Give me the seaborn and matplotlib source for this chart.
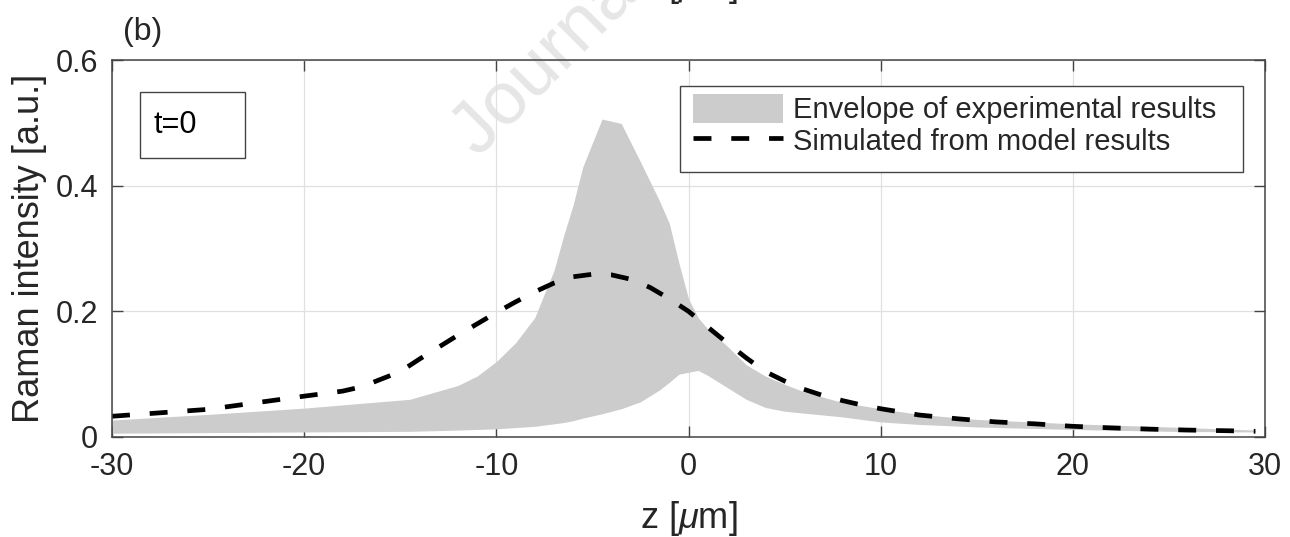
import numpy as np
import pandas as pd
import matplotlib
matplotlib.use("Agg")
import matplotlib.pyplot as plt
from matplotlib.patches import Patch, Rectangle
from matplotlib.lines import Line2D
import seaborn as sns

# Envelope of the measured Raman profiles (min / max over experiments)
env_z = [-30, -25, -20, -14.5, -12, -11, -10, -9, -8, -7.5, -7, -6.5, -6, -5.5,
         -4.5, -3.5, -2.5, -1.5, -1, -0.5, 0, 0.5, 1, 2, 3, 4, 5, 6, 8, 10,
         12, 15, 20, 25, 29.5]
env_upper = [0.027, 0.036, 0.046, 0.060, 0.082, 0.097, 0.120, 0.150, 0.190, 0.228,
             0.265, 0.320, 0.370, 0.430, 0.506, 0.499, 0.438, 0.375, 0.340, 0.277,
             0.220, 0.190, 0.172, 0.145, 0.115, 0.097, 0.084, 0.072, 0.055, 0.045,
             0.036, 0.028, 0.021, 0.016, 0.011]
env_lower = [0.006, 0.007, 0.008, 0.009, 0.011, 0.012, 0.013, 0.015, 0.017, 0.019,
             0.021, 0.023, 0.026, 0.030, 0.037, 0.045, 0.056, 0.075, 0.087, 0.100,
             0.103, 0.106, 0.098, 0.079, 0.060, 0.047, 0.041, 0.038, 0.032, 0.024,
             0.020, 0.016, 0.012, 0.009, 0.008]

# Simulated profile from the model
model_z = [-30, -25, -20, -18, -17, -15, -14, -13, -12, -11, -10, -9, -8, -7, -6,
           -5, -4, -3, -2, -1, 0, 1, 2, 3, 4, 5, 6, 7, 8, 9, 10, 12, 14, 16, 18,
           20, 22, 24, 26, 28, 29.5]
model_I = [0.033, 0.044, 0.065, 0.073, 0.080, 0.104, 0.124, 0.143, 0.162, 0.180,
           0.198, 0.215, 0.231, 0.245, 0.255, 0.259, 0.258, 0.251, 0.238, 0.220,
           0.200, 0.175, 0.150, 0.126, 0.104, 0.089, 0.076, 0.066, 0.058, 0.051,
           0.045, 0.035, 0.029, 0.024, 0.021, 0.017, 0.0145, 0.0125, 0.011, 0.010,
           0.009]

x_ticks = [-30, -20, -10, 0, 10, 20, 30]
y_ticks = [0, 0.2, 0.4, 0.6]
y_ticklabels = ["0", "0.2", "0.4", "0.6"]
legend_labels = ["Envelope of experimental results", "Simulated from model results"]

sns.set_theme(style="white")
plt.rcParams["font.family"] = ["Liberation Sans", "DejaVu Sans"]
plt.rcParams["axes.unicode_minus"] = False
plt.rcParams["mathtext.fontset"] = "custom"
plt.rcParams["mathtext.rm"] = "Liberation Sans"
plt.rcParams["mathtext.it"] = "Liberation Sans:italic"

dark = "#262626"
edge = "#444444"
fill_c = "#cccccc"
W, H = 1290, 537
AX_L, AX_R, AX_T, AX_B = 112, 1265, 60, 437


def ax_x(px):
    return (px - AX_L) / (AX_R - AX_L)


def ax_y(py):
    return (AX_B - py) / (AX_B - AX_T)


fig = plt.figure(figsize=(W / 100, H / 100), dpi=100)
ax = fig.add_axes([AX_L / W, 1 - AX_B / H, (AX_R - AX_L) / W, (AX_B - AX_T) / H])
ax.set_facecolor("none")

ax.fill_between(env_z, env_lower, env_upper, color=fill_c, linewidth=0, zorder=2)

df = pd.DataFrame({"z": model_z, "I": model_I})
sns.lineplot(data=df, x="z", y="I", ax=ax, color="black", linewidth=3.4,
             zorder=3, legend=False)
ax.lines[-1].set_dashes((3.8, 4.2))
ax.lines[-1].set_dash_capstyle("butt")

ax.set_xlim(-30, 30)
ax.set_ylim(0, 0.6)
ax.set_xticks(x_ticks)
ax.set_xticklabels([str(v) for v in x_ticks])
ax.set_yticks(y_ticks)
ax.set_yticklabels(y_ticklabels)
ax.grid(True, color="#e0e0e0", linewidth=0.9, zorder=0)
ax.set_axisbelow(True)

for s in ax.spines.values():
    s.set_color(edge)
    s.set_linewidth(1.1)
    s.set_visible(True)
    s.set_zorder(7)
ax.tick_params(axis="both", which="major", direction="in", length=8, width=1.0,
               color=edge, labelcolor=dark, labelsize=22,
               top=True, right=True, bottom=True, left=True)
ax.tick_params(axis="x", pad=11)
ax.tick_params(axis="y", pad=10)

ax.set_xlabel(r"z [$\mu$m]", fontsize=26, color=dark, labelpad=12)
ax.set_ylabel("Raman intensity [a.u.]", fontsize=26, color=dark, labelpad=6)

# legend frame (white box) and its entries
ax.add_patch(Rectangle((ax_x(680), ax_y(172)), ax_x(1243) - ax_x(680),
                       ax_y(86) - ax_y(172), transform=ax.transAxes,
                       facecolor="white", edgecolor=edge, linewidth=1.0,
                       zorder=5))
handles = [Patch(facecolor=fill_c, edgecolor="none"),
           Line2D([0], [0], color="black", linewidth=3.4, dashes=(3.8, 4.2))]
leg = ax.legend(handles, legend_labels, loc="upper left",
                bbox_to_anchor=(ax_x(693), ax_y(94)), borderaxespad=0,
                borderpad=0, fontsize=21, frameon=False, handlelength=3.1,
                handleheight=1.15, handletextpad=0.32, labelspacing=0.05)
leg.set_zorder(6)

# t=0 annotation box
ax.add_patch(Rectangle((ax_x(140), ax_y(158)), ax_x(245) - ax_x(140),
                       ax_y(92) - ax_y(158), transform=ax.transAxes,
                       facecolor="white", edgecolor=edge, linewidth=1.0,
                       zorder=5))
ax.text(ax_x(153), ax_y(125), "t=0", transform=ax.transAxes,
        fontsize=22, color="black", va="center", ha="left", zorder=6)

fig.text(123 / W, 1 - 40 / H, "(b)", fontsize=23, color=dark,
         ha="left", va="baseline")

# journal watermark and the cut-off label of the panel above
fig.text(478 / W, 1 - 158 / H, "Journal Pre-proof", fontsize=54,
         color="#e6e6e6", rotation=45, rotation_mode="anchor",
         ha="left", va="baseline", zorder=-1)
fig.text(689 / W, 1 + 3.5 / H, r"z [$\mu$m]", fontsize=26, color=dark,
         ha="center", va="baseline")

fig.savefig("out.png", dpi=100, facecolor="white")
